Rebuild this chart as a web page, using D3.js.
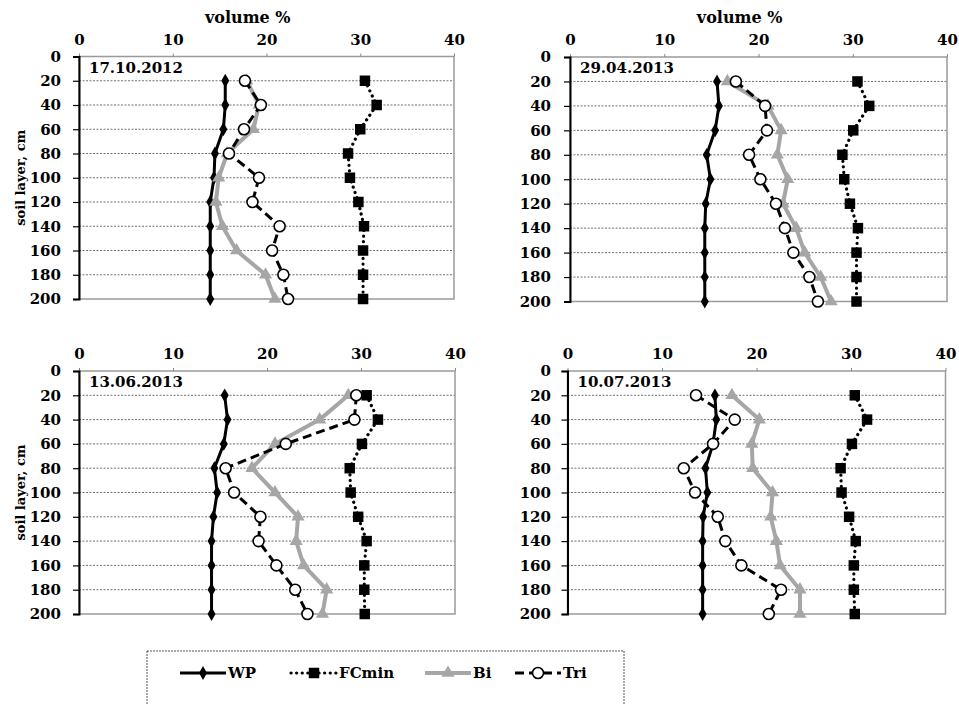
<!DOCTYPE html>
<meta charset="utf-8">
<style>
body { margin: 0; background: #fff; }
</style>
<svg width="959" height="705"></svg>
<script src="https://d3js.org/d3.v7.min.js"></script>
<script>

// soil depth, cm (rows) and x ticks
var depths = [20, 40, 60, 80, 100, 120, 140, 160, 180, 200];
var depthTicks = [0, 20, 40, 60, 80, 100, 120, 140, 160, 180, 200];
var volTicks = [0, 10, 20, 30, 40];
var dates = ["17.10.2012", "29.04.2013", "13.06.2013", "10.07.2013"];
var seriesNames = ["WP", "FCmin", "Bi", "Tri"];

// volume %, one row per date
var wp = [
  [15.6, 15.6, 15.4, 14.5, 14.4, 14.0, 14.0, 14.0, 14.0, 14.0],
  [15.6, 15.8, 15.4, 14.5, 14.9, 14.4, 14.3, 14.3, 14.3, 14.3],
  [15.5, 15.8, 15.4, 14.4, 14.7, 14.3, 14.1, 14.1, 14.1, 14.1],
  [15.6, 15.75, 15.4, 14.6, 14.8, 14.35, 14.3, 14.3, 14.3, 14.3]
];
var fcmin = [
  [30.5, 31.75, 30.0, 28.7, 28.9, 29.8, 30.4, 30.3, 30.3, 30.3],
  [30.5, 31.75, 30.05, 28.9, 29.1, 29.7, 30.55, 30.4, 30.4, 30.4],
  [30.6, 31.8, 30.1, 28.8, 28.9, 29.7, 30.6, 30.35, 30.35, 30.4],
  [30.4, 31.7, 30.1, 28.9, 29.0, 29.8, 30.5, 30.3, 30.3, 30.4]
];
var bi = [
  [17.9, 19.2, 18.6, 15.8, 14.9, 14.6, 15.3, 16.8, 19.9, 20.9],
  [16.7, 21.0, 22.4, 22.0, 23.1, 22.6, 24.0, 24.9, 26.6, 27.7],
  [28.65, 25.6, 20.85, 18.4, 20.85, 23.3, 23.1, 23.9, 26.35, 25.9],
  [17.4, 20.3, 19.5, 19.6, 21.7, 21.5, 22.1, 22.5, 24.6, 24.6]
];
var tri = [
  [17.7, 19.4, 17.6, 16.0, 19.2, 18.5, 21.4, 20.6, 21.8, 22.3],
  [17.6, 20.7, 20.9, 19.0, 20.2, 21.85, 22.8, 23.7, 25.4, 26.3],
  [29.5, 29.3, 22.0, 15.6, 16.5, 19.3, 19.1, 21.0, 23.0, 24.3],
  [13.6, 17.7, 15.4, 12.3, 13.5, 15.9, 16.7, 18.4, 22.6, 21.3]
];

var FONT = "'DejaVu Serif', serif";
var svg = d3.select("svg");

// panel frames
var panels = [
  {x0: 79, x1: 454, y0: 56.5, y1: 299, title: true, ytitle: true, labelRight: 61},
  {x0: 570, x1: 947, y0: 57, y1: 301.5, title: true, ytitle: false, labelRight: 551},
  {x0: 79, x1: 455, y0: 371, y1: 614, title: false, ytitle: true, labelRight: 61},
  {x0: 567.5, x1: 945.5, y0: 371, y1: 614, title: false, ytitle: false, labelRight: 551}
];

var styles = [
  {data: wp, color: "#000", width: 3, dash: null, cap: "butt"},
  {data: fcmin, color: "#000", width: 3.2, dash: "0.1,5.5", cap: "round"},
  {data: bi, color: "#a6a6a6", width: 4, dash: null, cap: "butt"},
  {data: tri, color: "#000", width: 3, dash: "9,5", cap: "butt"}
];

function marker(g, k, x, y) {
  if (k === 0) {
    g.append("path").attr("d", d3.symbol(d3.symbolDiamond, 55)()).attr("transform", "translate(" + x + "," + y + ")").attr("fill", "#000");
  } else if (k === 1) {
    g.append("path").attr("d", d3.symbol(d3.symbolSquare, 110)()).attr("transform", "translate(" + x + "," + y + ")").attr("fill", "#000");
  } else if (k === 2) {
    g.append("path").attr("d", d3.symbol(d3.symbolTriangle, 75)()).attr("transform", "translate(" + x + "," + y + ")").attr("fill", "#a6a6a6");
  } else {
    g.append("circle").attr("cx", x).attr("cy", y).attr("r", 5.5).attr("fill", "#fff").attr("stroke", "#000").attr("stroke-width", 1.6);
  }
}

panels.forEach(function(p, i) {
  var x = d3.scaleLinear().domain([0, 40]).range([p.x0, p.x1]);
  var y = d3.scaleLinear().domain([0, 200]).range([p.y0, p.y1]);
  var g = svg.append("g");

  // grid lines
  g.selectAll(".grid").data(depthTicks.slice(1, -1)).enter().append("line")
    .attr("x1", p.x0).attr("x2", p.x1)
    .attr("y1", function(d) { return y(d); }).attr("y2", function(d) { return y(d); })
    .attr("stroke", "#707070").attr("stroke-width", 1).attr("stroke-dasharray", "2,1.5");

  // frame
  g.append("rect").attr("x", p.x0).attr("y", p.y0).attr("width", p.x1 - p.x0).attr("height", p.y1 - p.y0)
    .attr("fill", "none").attr("stroke", "#9a9a9a").attr("stroke-width", 1.5);

  // top axis
  var xa = g.append("g").attr("transform", "translate(0," + p.y0 + ")")
    .call(d3.axisTop(x).tickValues(volTicks).tickSize(3).tickPadding(9));
  xa.select(".domain").remove();
  xa.selectAll(".tick line").attr("stroke", "#888");

  // left axis
  var ya = g.append("g").attr("transform", "translate(" + p.x0 + ",0)")
    .call(d3.axisLeft(y).tickValues(depthTicks).tickSize(6).tickPadding(p.x0 - p.labelRight - 6));
  ya.select(".domain").attr("stroke", "#000").attr("stroke-width", 2);
  ya.selectAll(".tick line").attr("stroke", "#000").attr("stroke-width", 1.2);

  g.selectAll(".tick text").style("font-size", "15px");

  if (p.title) {
    g.append("text").attr("x", p.x0 + (p.x1 - p.x0) * 0.45).attr("y", 23)
      .attr("text-anchor", "middle").style("font-size", "16px").text("volume %");
  }
  if (p.ytitle) {
    g.append("text").attr("transform", "translate(25," + ((p.y0 + p.y1) / 2) + ") rotate(-90)")
      .attr("text-anchor", "middle").style("font-size", "13px").text("soil layer, cm");
  }
  g.append("text").attr("x", p.x0 + 10).attr("y", y(0) + 16)
    .style("font-size", "15px").text(dates[i]);

  // series
  styles.forEach(function(s, k) {
    var vals = s.data[i];
    var line = d3.line().x(function(d, j) { return x(d); }).y(function(d, j) { return y(depths[j]); });
    g.append("path").datum(vals).attr("d", line)
      .attr("fill", "none").attr("stroke", s.color).attr("stroke-width", s.width)
      .attr("stroke-linecap", s.cap).attr("stroke-linejoin", "round")
      .attr("stroke-dasharray", s.dash);
    vals.forEach(function(v, j) { marker(g, k, x(v), y(depths[j])); });
  });
});

// legend
var lg = svg.append("g");
lg.append("rect").attr("x", 147).attr("y", 651).attr("width", 477).attr("height", 70)
  .attr("fill", "none").attr("stroke", "#555").attr("stroke-width", 1).attr("stroke-dasharray", "2,1");
var legendX = [180, 291, 425, 515];
seriesNames.forEach(function(name, k) {
  var s = styles[k], lx = legendX[k], ly = 673;
  lg.append("line").attr("x1", lx).attr("x2", lx + 46).attr("y1", ly).attr("y2", ly)
    .attr("stroke", s.color).attr("stroke-width", s.width).attr("stroke-linecap", s.cap)
    .attr("stroke-dasharray", s.dash);
  marker(lg, k, lx + 23, ly);
  lg.append("text").attr("x", lx + 48).attr("y", ly + 5).style("font-size", "15px").text(name);
});

svg.selectAll("text").style("font-family", FONT).style("font-weight", "bold").style("fill", "#000");

</script>
